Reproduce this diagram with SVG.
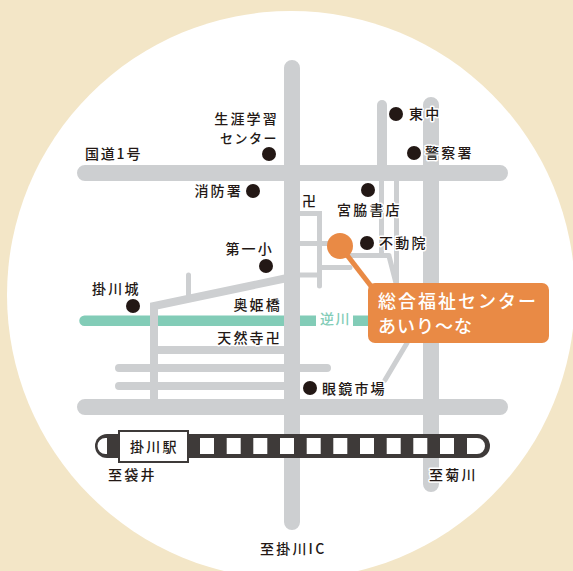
<svg xmlns="http://www.w3.org/2000/svg" width="573" height="571" viewBox="0 0 573 571">
<style>
text{font-family:"Noto Sans CJK JP","Noto Sans",sans-serif;font-size:14px;font-weight:500;fill:#231815;letter-spacing:2.200px;stroke:#fff;stroke-width:3px;paint-order:stroke;stroke-linejoin:round}
.e{text-anchor:end}
.r{fill:none;stroke:#cdcfd1;stroke-linecap:round}
.b{stroke:#cdcfd1;fill:none;stroke-width:16px;stroke-linecap:round}
.t{stroke-width:5px}
.w{stroke-width:8px}
.d{fill:#231815}
.s{fill:#fff}
</style>
<rect width="573" height="571" fill="#f3e6c7"/>
<circle cx="291" cy="295" r="284" fill="#fff"/>
<g id="river"><path d="M84.500 315.500H316V326H84.500a5.250 5.250 0 0 1 0-10.500zM353 315.500H372V326H353z" fill="#82ccb7"/></g>
<g id="connectors">
<path class="r" stroke-width="10" d="M382 105V170"/>
<path class="r t" d="M381.500 181V255M396.500 181V283M389 256L396 283M340 255.500H389M300 213.500H319.500V286M300 243.500H340M319.500 267.500H350M300 275H319.500M407 343L385 380"/>
<path class="r" stroke-width="5" d="M188.500 275V295"/>
<path class="r w" d="M154 399V306L292 277M154 350H292M119 368H327M119 386H292"/>
<path class="b" d="M292 68V522M85 173H500M85 407H500M431 105V484"/>
</g>
<g id="rail">
<rect x="95" y="434" width="395" height="24" rx="12" fill="#3e3a39"/>
<path class="s" d="M107 438H105.500a8 8 0 0 0 0 16H107zM467 438H477a8 8 0 0 1 0 16H467z"/>
<path class="s" d="M200 438h14v16h-14zM226.700 438h14v16h-14zM253.300 438h14v16h-14zM280 438h14v16h-14zM306.700 438h14v16h-14zM333.300 438h14v16h-14zM360 438h14v16h-14zM386.700 438h14v16h-14zM413.300 438h14v16h-14zM440 438h14v16h-14z"/>
</g>
<g id="station"><rect x="119" y="431" width="69" height="31" fill="#fff" stroke="#3e3a39" stroke-width="2"/><text x="130" y="451.500">掛川駅</text></g>
<g id="n-higashi"><circle class="d" cx="396" cy="114" r="7"/><text x="409" y="119">東中</text></g>
<g id="n-police"><circle class="d" cx="414" cy="153" r="7"/><text x="425" y="158">警察署</text></g>
<g id="n-shoten"><circle class="d" cx="368" cy="190" r="7"/><text x="337" y="215">宮脇書店</text></g>
<g id="n-fudo"><circle class="d" cx="367" cy="243" r="7"/><text x="379" y="248">不動院</text></g>
<g id="n-shogai"><circle class="d" cx="269" cy="154" r="7"/><text class="e" x="279" y="124">生涯学習</text><text class="e" x="278" y="143" style="font-size:13px;letter-spacing:1.500px">センター</text></g>
<g id="n-kokudo"><text x="85" y="159" style="letter-spacing:1.800px">国道1号</text></g>
<g id="n-fire"><circle class="d" cx="253" cy="191" r="7"/><text class="e" x="243" y="196">消防署</text></g>
<g id="n-daiichi"><circle class="d" cx="266" cy="266" r="7"/><text class="e" x="274" y="254">第一小</text></g>
<g id="n-castle"><circle class="d" cx="133" cy="306" r="7"/><text x="92" y="294">掛川城</text></g>
<g id="n-okuhime"><text class="e" x="282" y="310">奥姫橋</text></g>
<g id="n-tennen"><text class="e" x="282" y="343">天然寺卍</text></g>
<g id="n-manji"><text x="302" y="206" style="letter-spacing:0">卍</text></g>
<g id="n-megane"><circle class="d" cx="310" cy="388" r="7"/><text x="322" y="394">眼鏡市場</text></g>
<g id="n-sakagawa"><text x="320" y="324" style="fill:#82ccb7;letter-spacing:1.500px">逆川</text></g>
<g id="n-fukuroi"><text x="108" y="480">至袋井</text></g>
<g id="n-kikugawa"><text x="429" y="480">至菊川</text></g>
<g id="n-ic"><text x="260" y="554" style="letter-spacing:2.200px">至掛川IC</text></g>
<g id="center">
<path d="M340 246L374 290" stroke="#e98a45" stroke-width="5" fill="none"/>
<circle cx="340" cy="246" r="13" fill="#e98a45"/>
<rect x="368" y="283" width="181" height="60" rx="7" fill="#e98a45"/>
<text x="378" y="308" style="fill:#fff;stroke:none;font-size:18px;letter-spacing:2px">総合福祉センター</text>
<text x="378" y="333" style="fill:#fff;stroke:none;font-size:18px;letter-spacing:1px">あいり～な</text>
</g>
</svg>
